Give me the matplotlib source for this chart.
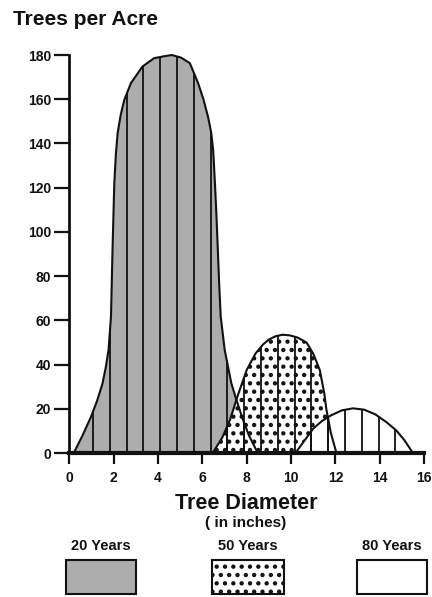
import numpy as np
import matplotlib
matplotlib.use("Agg")
import matplotlib.pyplot as plt
from matplotlib.patches import Rectangle

plt.rcParams['font.family'] = ['Liberation Sans', 'DejaVu Sans']
plt.rcParams['font.weight'] = 'bold'
plt.rcParams['hatch.color'] = '#111111'
plt.rcParams['hatch.linewidth'] = 1.9

# ---- data ----
x20 = [0.20, 0.60, 0.98, 1.25, 1.50, 1.65, 1.77, 1.88, 1.95, 2.03, 2.10, 2.18,
       2.32, 2.48, 2.78, 3.30, 3.83, 4.36, 4.63, 5.05, 5.44, 5.81, 6.05, 6.26,
       6.40, 6.49, 6.57, 6.64, 6.76, 6.83, 7.01, 7.31, 7.54, 7.80, 8.10, 8.50]
y20 = [0, 8, 16.4, 23.5, 31.5, 39, 46.6, 61.7, 91.9, 122, 135, 144.7,
       153, 159.7, 167.3, 174.8, 178.6, 179.6, 180, 178.8, 176.3, 167.3, 160, 152,
       145, 137, 122, 107, 76.8, 61.7, 46.6, 31.5, 24, 16, 8, 0]

x50 = [6.47, 6.90, 7.25, 7.60, 8.00, 8.40, 8.73, 9.00, 9.30, 9.63, 9.95, 10.30,
       10.70, 11.00, 11.30, 11.50, 11.60, 11.80, 12.05]
y50 = [0, 7, 15, 26, 37.5, 45, 49, 51.3, 52.8, 53.5, 53.2, 52.2,
       50, 45, 37.5, 27, 19.5, 9, 0]

x80 = [10.2, 10.6, 11.0, 11.4, 11.8, 12.3, 12.8, 13.3, 13.8, 14.3, 14.75, 15.1, 15.5]
y80 = [0, 5.5, 11, 14.5, 17, 19.3, 20.2, 19.6, 17.5, 14, 10.2, 6, 0]

xticks = [0, 2, 4, 6, 8, 10, 12, 14, 16]
yticks = [0, 20, 40, 60, 80, 100, 120, 140, 160, 180]
legend_labels = ["20 Years", "50 Years", "80 Years"]

# ---- styling ----
INK = '#111111'
GRAY = '#adadad'
stripe_start, stripe_step, stripe_end = 1.07, 0.758, 15.0

fig = plt.figure(figsize=(4.32, 5.97), dpi=100)
ax = fig.add_axes([0.1604, 0.2412, 0.8211, 0.6777])

p20 = ax.fill(x20, y20, facecolor=GRAY, edgecolor='none', zorder=1)[0]
p50 = ax.fill(x50, y50, facecolor='white', edgecolor=INK, linewidth=0,
              hatch='..', zorder=2)[0]
p80 = ax.fill(x80, y80, facecolor='white', edgecolor='none', zorder=3)[0]

stripes = np.arange(stripe_start, stripe_end, stripe_step)
for p in (p20, p50, p80):
    lc = ax.vlines(stripes, 0, 185, colors=INK, linewidth=1.3, zorder=4)
    lc.set_clip_path(p)

for xs, ys in ((x20, y20), (x50, y50), (x80, y80)):
    ax.plot(xs, ys, color=INK, linewidth=1.5, zorder=5,
            solid_joinstyle='round', solid_capstyle='round')

ax.set_xlim(0, 16)
ax.set_ylim(0, 183)
ax.set_xticks(xticks)
ax.set_yticks(yticks)
ax.spines['top'].set_visible(False)
ax.spines['right'].set_visible(False)
ax.spines['left'].set_bounds(0, 180)
ax.spines['left'].set_linewidth(2.0)
ax.spines['bottom'].set_linewidth(3.0)
ax.spines['left'].set_color(INK)
ax.spines['bottom'].set_color(INK)
ax.spines['bottom'].set_zorder(6)
ax.tick_params(axis='y', length=11, width=1.6, pad=2, labelsize=10, colors=INK)
ax.tick_params(axis='x', length=8, width=1.6, pad=5, labelsize=10, colors=INK)
for lab in ax.get_xticklabels() + ax.get_yticklabels():
    lab.set_fontweight('bold')
ax.patch.set_alpha(0)

fig.text(0.030, 0.968, "Trees per Acre", fontsize=15, fontweight='bold',
         color=INK, ha='left', va='center')
fig.text(0.571, 0.1566, "Tree Diameter", fontsize=15.5, fontweight='bold',
         color=INK, ha='center', va='center')
fig.text(0.568, 0.124, "( in inches)", fontsize=11, fontweight='bold',
         color=INK, ha='center', va='center')

rects = [(0.1528, 0.162), (0.4907, 0.1667), (0.8264, 0.162)]
faces = [GRAY, 'white', 'white']
hatches = [None, '..', None]
for (x0, w), lab, fc, h in zip(rects, legend_labels, faces, hatches):
    r = Rectangle((x0, 0.0045), w, 0.057, transform=fig.transFigure,
                  facecolor=fc, edgecolor=INK, linewidth=1.5, hatch=h)
    fig.add_artist(r)
    fig.text(x0 + w / 2, 0.0854, lab, fontsize=10.5, fontweight='bold',
             color=INK, ha='center', va='center')

fig.savefig("out.png", dpi=100)
